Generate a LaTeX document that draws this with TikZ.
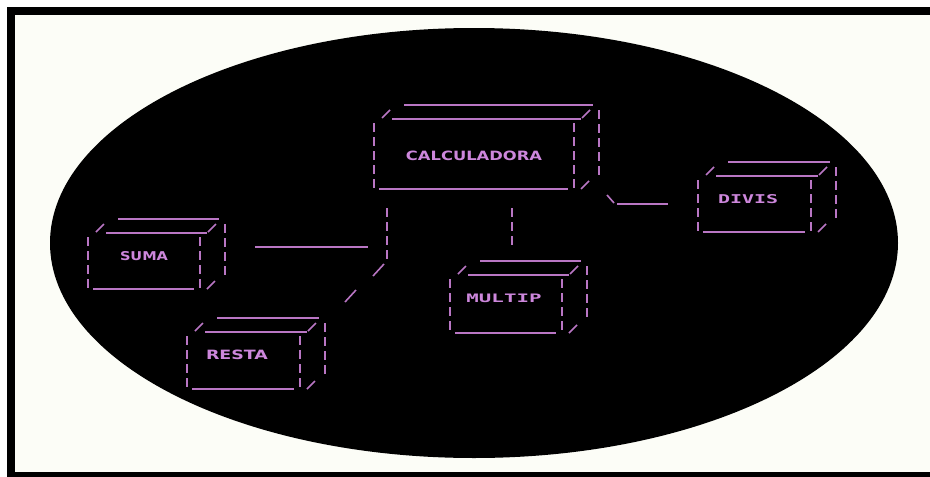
\documentclass[tikz,border=0pt]{standalone}
\usepackage{fontspec}
\usepackage{graphicx}
\newfontfamily\lblsans{DejaVu Sans}
\newfontfamily\lblmono{DejaVu Sans Mono}
\definecolor{asciiline}{RGB}{185,118,196}
\definecolor{asciitext}{RGB}{205,135,220}
\definecolor{cream}{RGB}{252,253,247}
\tikzset{
  asc/.style={draw=asciiline, line width=1.6pt},
  ascdash/.style={asc, dash pattern=on 9pt off 5pt},
  lbl/.style={inner sep=0pt, text=asciitext},
}
\newcommand\asciibox[4]{%
  \begin{scope}[shift={(#1,#2)}]
    \pgfmathsetmacro\bw{#3-#1}
    \pgfmathsetmacro\bh{#4-#2}
    \draw[asc] (18,0) -- (\bw+7,0);
    \draw[asc] (30,-14) -- (\bw+19,-14);
    \draw[asc] (8,-1) -- (16,-9);
    \draw[asc] (\bw+8,-1) -- (\bw+16,-9);
    \draw[ascdash] (0,4) -- (0,\bh+1);
    \draw[ascdash] (\bw,4) -- (\bw,\bh+1);
    \draw[ascdash] (\bw+25,-9) -- (\bw+25,\bh-13);
    \draw[asc] (5,\bh) -- (\bw-6,\bh);
    \draw[asc] (\bw+7,\bh) -- (\bw+15,\bh-8);
  \end{scope}}
\begin{document}
\begin{tikzpicture}[x=1pt,y=-1pt]
  \useasboundingbox (0,0) rectangle (930,477);
  % background and frame
  \fill[white] (0,0) rectangle (930,477);
  \fill[black] (7,7) rectangle (930,477);
  \fill[cream] (15,15) rectangle (930,472);
  % big ellipse
  \fill[black] (474,243) ellipse [x radius=424pt, y radius=215pt];
  % boxes
  \asciibox{374}{119}{574}{189}
  \asciibox{88}{233}{200}{289}
  \asciibox{187}{332}{300}{389}
  \asciibox{450}{275}{562}{333}
  \asciibox{698}{176}{811}{232}
  % labels
  \node[lbl] (calc) at (474,156.2) {\resizebox{136pt}{9.5pt}{\lblsans\bfseries CALCULADORA}};
  \node[lbl] (suma) at (144,256) {\resizebox{48pt}{9pt}{\lblsans\bfseries SUMA}};
  \node[lbl] (resta) at (237,355.3) {\resizebox{62pt}{9.5pt}{\lblsans\bfseries RESTA}};
  \node[lbl] (multip) at (504,298.3) {\resizebox{75pt}{8.5pt}{\lblmono\bfseries MULTIP}};
  \node[lbl] (divis) at (748,198.8) {\resizebox{60pt}{9pt}{\lblmono\bfseries DIVIS}};
  % connectors
  \coordinate (h1) at (255,247);
  \coordinate (h2) at (368,247);
  \coordinate (v1) at (387,208);
  \coordinate (v2) at (387,262);
  \coordinate (d1) at (384,264);
  \coordinate (d2) at (373,276);
  \coordinate (d3) at (356,290);
  \coordinate (d4) at (345,302);
  \coordinate (m1) at (512,208);
  \coordinate (m2) at (512,248);
  \coordinate (s1) at (607,195);
  \coordinate (s2) at (614,203);
  \coordinate (s3) at (617,204);
  \coordinate (s4) at (668,204);
  \draw[asc] (h1) -- (h2);
  \draw[ascdash] (v1) -- (v2);
  \draw[asc] (d1) -- (d2);
  \draw[asc] (d3) -- (d4);
  \draw[ascdash] (m1) -- (m2);
  \draw[asc] (s1) -- (s2);
  \draw[asc] (s3) -- (s4);
\end{tikzpicture}
\end{document}
